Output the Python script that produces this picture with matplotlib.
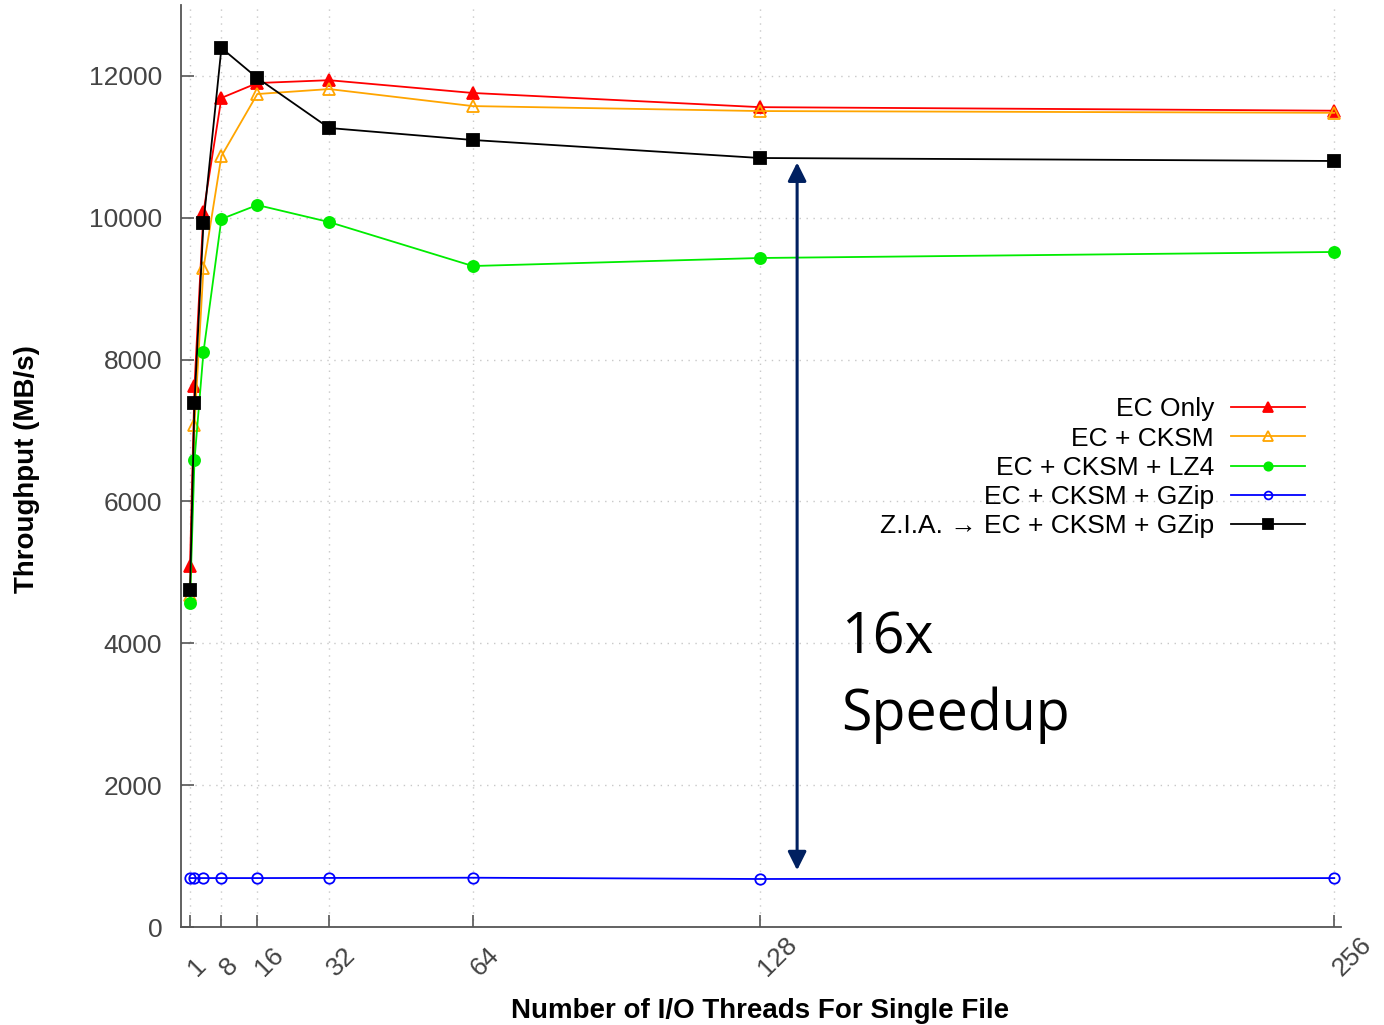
import matplotlib
matplotlib.use("Agg")
import matplotlib.pyplot as plt
from matplotlib.transforms import ScaledTranslation

plt.rcParams["font.family"] = ["Liberation Sans", "DejaVu Sans"]

threads = [1, 2, 4, 8, 16, 32, 64, 128, 256]
tick_threads = [1, 8, 16, 32, 64, 128, 256]
y_ticks = [0, 2000, 4000, 6000, 8000, 10000, 12000]

ec_only = [5090, 7630, 10080, 11690, 11900, 11940, 11760, 11560, 11510]
ec_cksm = [4680, 7080, 9290, 10870, 11745, 11815, 11575, 11505, 11480]
ec_cksm_lz4 = [4570, 6585, 8108, 9983, 10180, 9940, 9320, 9433, 9518]
ec_cksm_gzip = [690, 690, 690, 690, 690, 692, 695, 677, 690]
zia_gzip = [4750, 7390, 9927, 12394, 11971, 11266, 11097, 10843, 10801]

series = [
    ("EC Only", ec_only, "#ff0000", "^", "#ff0000", 9),
    ("EC + CKSM", ec_cksm, "#ffa500", "^", "none", 9),
    ("EC + CKSM + LZ4", ec_cksm_lz4, "#00ec00", "o", "#00ec00", 8),
    ("EC + CKSM + GZip", ec_cksm_gzip, "#0000ff", "o", "none", 7.5),
    ("Z.I.A. \u2192 EC + CKSM + GZip", zia_gzip, "#000000", "s", "#000000", 9),
]

fig = plt.figure(figsize=(13.84, 10.25), dpi=100)
ax = fig.add_axes([0.1308, 0.0956, 0.8381, 0.8995])

for label, vals, color, marker, face, ms in series:
    ax.plot(threads, vals, color=color, lw=1.3, marker=marker, ms=ms,
            markerfacecolor=face, markeredgecolor=color, markeredgewidth=1.3,
            label=label)

ax.set_xlim(-1, 257.5)
ax.set_ylim(0, 13000)
ax.set_xticks(tick_threads)
ax.set_yticks(y_ticks)
ax.set_xticklabels([str(t) for t in tick_threads], rotation=45,
                   rotation_mode="anchor", ha="left", va="baseline")
ax.tick_params(axis="x", direction="in", length=9, width=1.2, color="#555555",
               pad=36, labelsize=19, labelcolor="#444444")
ax.tick_params(axis="y", direction="in", length=9, width=1.2, color="#555555",
               pad=13.5, labelsize=19, labelcolor="#444444")
shift = ScaledTranslation(7 / 100, 0, fig.dpi_scale_trans)
for lbl in ax.get_xticklabels():
    lbl.set_transform(lbl.get_transform() + shift)

ax.grid(True, color="#c8c8c8", linestyle=(0, (1, 4)), linewidth=1.0)
ax.set_axisbelow(True)
for side in ("top", "right"):
    ax.spines[side].set_visible(False)
for side in ("left", "bottom"):
    ax.spines[side].set_color("#555555")
    ax.spines[side].set_linewidth(1.3)

ax.set_xlabel("Number of I/O Threads For Single File", fontsize=20,
              fontweight="bold")
ax.set_ylabel("Throughput (MB/s)", fontsize=20, fontweight="bold")
ax.yaxis.set_label_coords(-0.122, 0.497)
ax.xaxis.set_label_coords(0.4995, -0.0765)

ax.legend(loc="center right", bbox_to_anchor=(0.9429, 0.5435),
          bbox_transform=fig.transFigure, frameon=False, markerfirst=False,
          fontsize=19, handlelength=2.8, handletextpad=0.65, labelspacing=0.2,
          borderpad=0, borderaxespad=0, markerscale=0.75)

ax.annotate("", xy=(136.3, 800), xytext=(136.3, 10780),
            arrowprops=dict(arrowstyle="<|-|>", color="#002060", lw=2.2,
                            mutation_scale=28, shrinkA=0, shrinkB=0))
ax.text(146, 3863, "16x", fontsize=40, family="Open Sans", va="baseline")
ax.text(146, 2778, "Speedup", fontsize=40, family="Open Sans", va="baseline")

fig.savefig("out.png", dpi=100)
